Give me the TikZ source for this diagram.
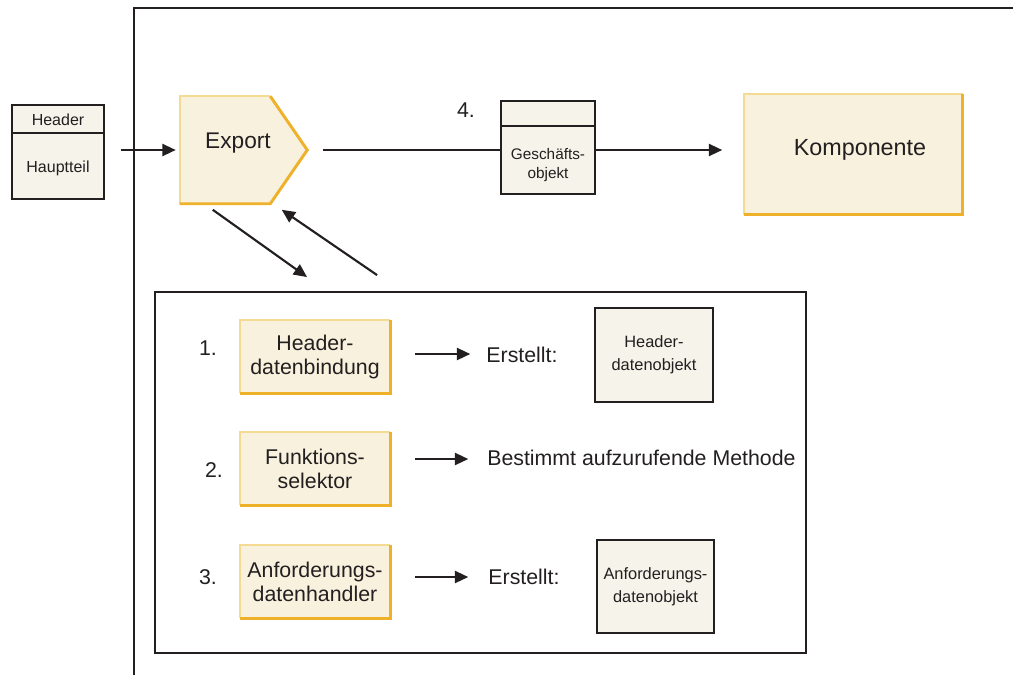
\documentclass[tikz,border=0pt]{standalone}
\usepackage{fontspec}
\setmainfont{Liberation Sans}
\usetikzlibrary{arrows.meta,calc}
\pgfdeclarelayer{background}
\pgfsetlayers{background,main}
\newlength\pxu \setlength\pxu{0.75pt}
\definecolor{ink}{HTML}{231F20}
\definecolor{cream}{HTML}{F7F1DE}
\definecolor{objfill}{HTML}{F6F3EB}
\definecolor{edgelight}{HTML}{F5DA92}
\definecolor{edgedark}{HTML}{EFB02A}
\tikzset{
  x=0.75pt, y=-0.75pt,
  conn/.style={draw=ink, line width=1.6pt},
  arr/.style={conn, -{Triangle[length=10pt,width=9pt]}},
  bigfont/.style={font=\fontsize{16}{18}\selectfont},
  ybox/.style={fill=cream, inner sep=0pt, align=center, text=ink, bigfont},
  obox/.style={draw=ink, line width=1.4pt, fill=objfill, inner sep=0pt, align=center, text=ink},
  lbl/.style={text=ink, inner sep=0pt, bigfont},
  smallfont/.style={font=\fontsize{12.3}{17}\selectfont},
}
% two-tone border of the yellow boxes: light top/left, dark right/bottom
\newcommand\yframe[1]{%
  \draw[edgelight, line width=1.5pt] (#1.south west) -- (#1.north west) -- (#1.north east);
  \draw[edgedark, line width=2.2pt] (#1.north east) -- (#1.south east) -- (#1.south west);}
\begin{document}
\begin{tikzpicture}
\useasboundingbox (0,0) rectangle (1013,675);

% outer frame
\draw[ink, line width=1.4pt] (134,675) -- (134,8) -- (1013,8);

% incoming message
\node[obox, minimum width=92\pxu, minimum height=94\pxu] (msg) at (58,152) {};
\draw[ink, line width=1.4pt] ($(msg.north west)+(0,29)$) -- ($(msg.north east)+(0,29)$);
\node[text=ink, font=\fontsize{12}{14}\selectfont] (msghead) at (58,119.5) {Header};
\node[text=ink, font=\fontsize{12}{14}\selectfont] (msgbody) at (58,168) {Hauptteil};

% export
\node[inner sep=0pt, minimum width=127\pxu, minimum height=107\pxu] (export) at (243.5,150) {};
\node[text=ink, inner sep=0pt, font=\fontsize{17}{20}\selectfont] (exportlbl) at (238,143) {Export};
\begin{pgfonlayer}{background}
  \fill[cream] (export.south west) -- (export.north west) -- ($(export.north east)+(-37,0)$)
    -- (export.east) -- ($(export.south east)+(-37,0)$) -- cycle;
  \draw[edgelight, line width=1.5pt] (export.south west) -- (export.north west) -- ($(export.north east)+(-37,0)$);
  \draw[edgedark, line width=2.2pt, line join=miter] ($(export.north east)+(-37,0)$)
    -- (export.east) -- ($(export.south east)+(-37,0)$) -- (export.south west);
\end{pgfonlayer}

\draw[arr, shorten <=16\pxu, shorten >=4\pxu] (msg.east |- export.west) -- (export.west);

% business object
\node[obox, minimum width=94\pxu, minimum height=93\pxu] (bo) at (548,147.5) {};
\draw[ink, line width=1.4pt] ($(bo.north west)+(0,26)$) -- ($(bo.north east)+(0,26)$);
\node[text=ink, align=center, inner sep=0pt, font=\fontsize{11.5}{14}\selectfont] (botext) at (548,165) {Geschäfts-\\objekt};
\node[lbl] (n4) at (466,110) {4.};

% component
\node[fill=cream, inner sep=0pt, minimum width=218\pxu, minimum height=120\pxu] (comp) at (853.5,154.5) {};
\node[text=ink, inner sep=0pt, font=\fontsize{17.5}{20}\selectfont] (complbl) at (860,150) {Komponente};
\yframe{comp}

\draw[conn, shorten <=16\pxu] (export.east) -- (export.east -| bo.west);
\draw[arr, shorten >=22\pxu] (export.east -| bo.east) -- (export.east -| comp.west);

% handler panel
\node[draw=ink, line width=1.4pt, minimum width=651\pxu, minimum height=361\pxu, inner sep=0pt] (panel) at (480.5,472.5) {};

\draw[arr] ($(export.south west)+(33,6)$) -- ($(panel.north west)+(153,-14)$);
\draw[arr] ($(panel.north west)+(223,-16)$) -- ($(export.south west)+(102,6)$);

% step 1
\node[ybox, minimum width=150\pxu, minimum height=73\pxu] (hdb) at (315,356.5) {Header-\\datenbindung};
\yframe{hdb}
\node[lbl] (n1) at (208,348) {1.};
\node[lbl] (cr1) at (522,355) {Erstellt:};
\draw[arr] ($(hdb.east)+(25,-2.5)$) -- ($(hdb.east)+(80,-2.5)$);
\node[obox, minimum width=118\pxu, minimum height=94\pxu, smallfont] (hdo) at (654,355) {Header-\\datenobjekt};

% step 2
\node[ybox, minimum width=150\pxu, minimum height=73\pxu] (fs) at (315,468.5) {Funktions-\\selektor};
\yframe{fs}
\node[lbl] (n2) at (214,470) {2.};
\draw[arr] ($(fs.east)+(25,-9.5)$) -- ($(fs.east)+(78,-9.5)$);
\node[lbl, anchor=west] (meth) at (487,458) {Bestimmt aufzurufende Methode};

% step 3
\node[ybox, minimum width=150\pxu, minimum height=73\pxu] (rdh) at (315,581.5) {Anforderungs-\\datenhandler};
\yframe{rdh}
\node[lbl] (n3) at (208,577) {3.};
\node[lbl] (cr3) at (524,577) {Erstellt:};
\draw[arr] ($(rdh.east)+(25,-4.5)$) -- ($(rdh.east)+(78,-4.5)$);
\node[obox, minimum width=117\pxu, minimum height=93\pxu, smallfont] (rdo) at (655.5,586.5) {Anforderungs-\\datenobjekt};
\end{tikzpicture}
\end{document}
